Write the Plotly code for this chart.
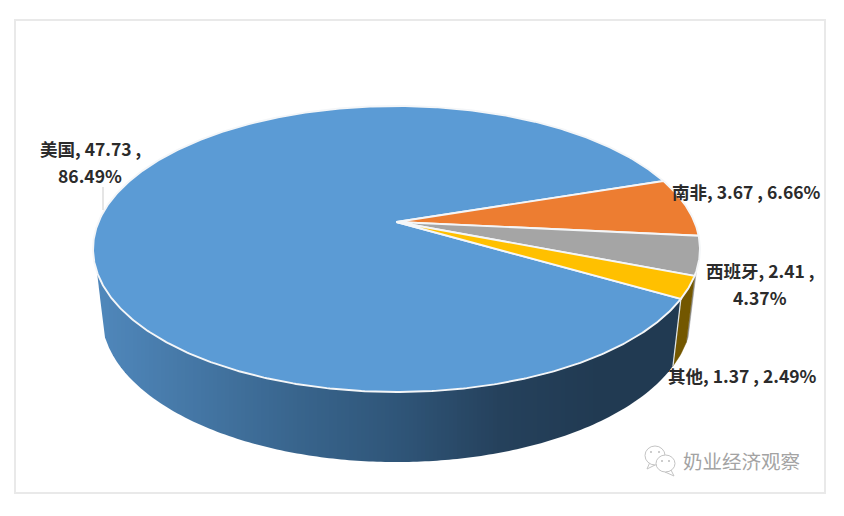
import numpy as np
import plotly.graph_objects as go

# ---- data ----
regions = ["美国", "南非", "西班牙", "其他"]
values = ["47.73", "3.67", "2.41", "1.37"]
shares = [86.49, 6.66, 4.37, 2.49]
top_colors = ["#5b9bd5", "#ed7d31", "#a5a5a5", "#ffc000"]
label_lines = [["美国, 47.73 ,", "86.49%"], ["南非, 3.67 , 6.66%"], ["西班牙, 2.41 ,", "4.37%"], ["其他, 1.37 , 2.49%"]]
label_x = [90, 746, 760, 742]
label_y = [[148.5, 175.5], [191.5], [270.5, 297.5], [375]]
watermark = "奶业经济观察"

W, H = 844, 516
FIRST_ANGLE = 30.3          # screen angle at which the first slice starts (clockwise, projected circle)
K = 0.1888                  # perspective
TOP = dict(cx=396.5, cy=222.0, R=298.0, A=137.9)
BOT = dict(cx=396.5, cy=287.0, R=289.7, A=142.0)
WALL_END = (19.4, 160.6)
BAND = 4


def proj(theta_deg, g):
    t = np.radians(np.asarray(theta_deg, dtype=float))
    d = 1 - K * np.sin(t)
    return g["cx"] + g["R"] * np.cos(t) / d, g["cy"] + g["A"] * np.sin(t) / d


fig = go.Figure()


def poly(xs, ys, fill, line=None, lw=1.0):
    fig.add_trace(go.Scatter(x=list(xs), y=list(ys), mode="lines", fill="toself", fillcolor=fill,
                             line=dict(color=line or fill, width=lw), hoverinfo="skip", showlegend=False))


# slice bounds from the shares
sweep = np.array(shares) / sum(shares) * 360
starts = FIRST_ANGLE + np.concatenate([[0], np.cumsum(sweep)[:-1]])
ends = starts + sweep


def blue_wall(x):
    xs = [95, 300, 400, 500, 600, 690]
    r = np.interp(x, xs, [80, 56, 47, 37, 33, 33])
    g = np.interp(x, xs, [136, 100, 85, 65, 58, 58])
    b = np.interp(x, xs, [188, 140, 120, 92, 82, 82])
    return f"rgb({r:.0f},{g:.0f},{b:.0f})"


# outer wall of the blue slice, cut into vertical colour bands on whole pixels
th = np.linspace(starts[0], WALL_END[1], 400)[::-1]     # left to right
xt, yt = proj(th, TOP)
xb, yb = proj(th, BOT)
# lower outline = left silhouette, bottom arc, right seam
low_x = np.concatenate([[xt[0]], xb, [xt[-1]]])
low_y = np.concatenate([[yt[0]], yb, [yt[-1]]])
inner = np.arange(np.ceil(xt[0]), np.floor(xt[-1]), BAND)
band_edges = np.concatenate([[xt[0]], inner, [xt[-1]]])
for a, b in zip(band_edges[:-1], band_edges[1:]):
    xs = np.array([a, b])
    up = np.interp(xs, xt, yt)
    lo = np.interp(xs, low_x, low_y)
    poly([a, b, b, a, a], [up[0], up[1], lo[1], lo[0], up[0]], blue_wall((a + b) / 2), lw=0)

# outer wall: small grey and yellow slices on the right
grey_i, yellow_i = 2, 3
yellow_start = starts[yellow_i] - 360
yellow_end = ends[yellow_i] - 360
for a, b, col in [(WALL_END[0], yellow_start, "#8c8c8c"), (yellow_start, yellow_end, "#735700")]:
    th = np.linspace(a, b, 12)
    xt2, yt2 = proj(th, TOP)
    xb2, yb2 = proj(th[::-1], BOT)
    poly(list(xt2) + list(xb2) + [xt2[0]], list(yt2) + list(yb2) + [yt2[0]], col, lw=0.5)

# light seam on the wall
sx, sy = proj([starts[0]], TOP)
ex, ey = proj([starts[0]], BOT)
fig.add_trace(go.Scatter(x=[sx[0], ex[0]], y=[sy[0], ey[0]], mode="lines", line=dict(color="#dfe6ec", width=1.2),
                         hoverinfo="skip", showlegend=False))

# top face
for st, en, col in zip(starts, ends, top_colors):
    th = np.linspace(st, en, max(int((en - st) * 2), 8))
    x, y = proj(th, TOP)
    poly([TOP["cx"]] + list(x) + [TOP["cx"]], [TOP["cy"]] + list(y) + [TOP["cy"]], col, line="#f4f6f8", lw=1.9)

# leader line of the first label
fig.add_trace(go.Scatter(x=[103, 103], y=[187, 210], mode="lines", line=dict(color="#d4d4d4", width=1.2),
                         hoverinfo="skip", showlegend=False))

# labels
annotations = []
for lines, lx, ly in zip(label_lines, label_x, label_y):
    for t, yy in zip(lines, ly):
        annotations.append(dict(x=lx, y=yy, xref="x", yref="y", text=f"<b>{t}</b>", showarrow=False,
                                xanchor="center", yanchor="middle",
                                font=dict(family="Noto Sans CJK SC, Liberation Sans", size=17.5, color="#2b2b2b")))
annotations.append(dict(x=741.5, y=460, xref="x", yref="y", text=watermark, showarrow=False,
                        xanchor="center", yanchor="middle",
                        font=dict(family="Noto Sans CJK SC", size=19.5, color="#a3a3a3")))

shapes = [
    dict(type="rect", xref="x", yref="y", x0=15, y0=20, x1=825, y1=493, line=dict(color="#e9e9e9", width=2), layer="below"),
    dict(type="path", xref="x", yref="y", path="M650,462 L647,469 L655,465 Z", line=dict(color="#c4c4c4", width=1), fillcolor="white"),
    dict(type="circle", xref="x", yref="y", x0=645, y0=446, x1=665, y1=465, line=dict(color="#c4c4c4", width=1), fillcolor="white"),
    dict(type="path", xref="x", yref="y", path="M671,470 L674,476 L665,472 Z", line=dict(color="#c4c4c4", width=1), fillcolor="white"),
    dict(type="circle", xref="x", yref="y", x0=656, y0=455, x1=675, y1=472, line=dict(color="#c4c4c4", width=1), fillcolor="white"),
]
for cx, cy in [(651, 452), (659, 452), (662, 461), (669, 461)]:
    shapes.append(dict(type="circle", xref="x", yref="y", x0=cx - 1, y0=cy - 1, x1=cx + 1, y1=cy + 1,
                       line=dict(width=0), fillcolor="#bdbdbd"))

fig.update_layout(
    width=W, height=H, margin=dict(l=0, r=0, t=0, b=0), paper_bgcolor="white", plot_bgcolor="white",
    xaxis=dict(range=[0, W], visible=False, fixedrange=True),
    yaxis=dict(range=[H, 0], visible=False, fixedrange=True),
    annotations=annotations, shapes=shapes, showlegend=False,
)
fig.write_html("out.html", config={"displayModeBar": False},
               post_script="document.body.style.margin='0';document.body.style.overflow='hidden';")
